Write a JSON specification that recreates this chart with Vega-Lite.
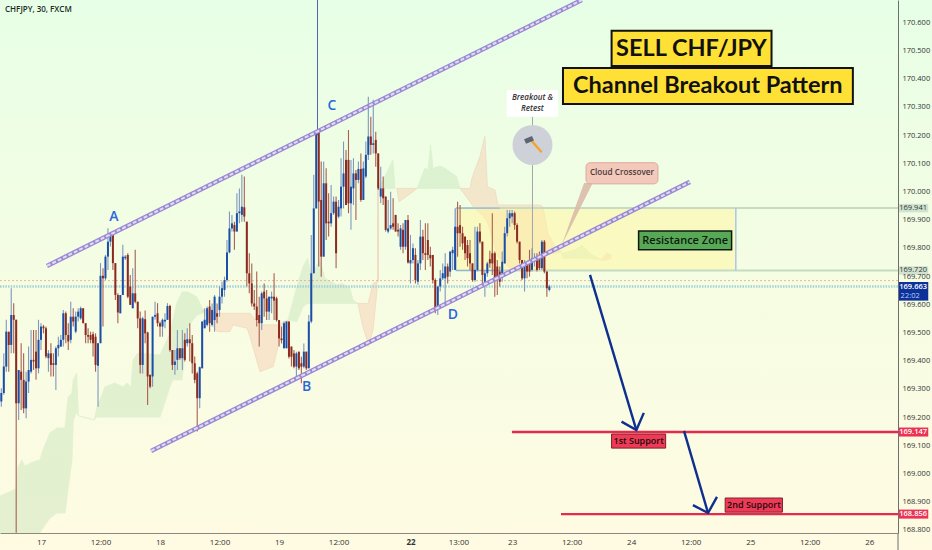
{
  "$schema": "https://vega.github.io/schema/vega-lite/v6.json",
  "width": 898,
  "height": 533,
  "autosize": "none",
  "padding": {"left": 0, "top": 0, "right": 34, "bottom": 17},
  "background": "#f5fde4",
  "view": {"stroke": null},
  "config": {"text": {"font": "Open Sans"}},
  "datasets": {
    "cand": [
      {"b":-17,"o":169.249,"c":169.273,"h":169.285,"l":169.220},
      {"b":-16,"o":169.255,"c":169.285,"h":169.302,"l":169.237},
      {"b":-15,"o":169.285,"c":169.379,"h":169.426,"l":169.279},
      {"b":-14,"o":169.379,"c":169.503,"h":169.545,"l":169.361},
      {"b":-13,"o":169.503,"c":169.456,"h":169.503,"l":169.361},
      {"b":-12,"o":169.456,"c":169.562,"h":169.657,"l":169.426},
      {"b":-11,"o":169.562,"c":169.545,"h":169.604,"l":169.426},
      {"b":-10,"o":169.545,"c":169.249,"h":169.545,"l":168.790},
      {"b":-9,"o":169.249,"c":169.367,"h":169.367,"l":169.190},
      {"b":-8,"o":169.361,"c":169.332,"h":169.462,"l":169.225},
      {"b":-7,"o":169.332,"c":169.231,"h":169.426,"l":169.214},
      {"b":-6,"o":169.231,"c":169.326,"h":169.361,"l":169.196},
      {"b":-5,"o":169.326,"c":169.367,"h":169.450,"l":169.285},
      {"b":-4,"o":169.361,"c":169.403,"h":169.509,"l":169.355},
      {"b":-3,"o":169.403,"c":169.397,"h":169.509,"l":169.367},
      {"b":-2,"o":169.432,"c":169.373,"h":169.509,"l":169.332},
      {"b":-1,"o":169.373,"c":169.474,"h":169.545,"l":169.355},
      {"b":0,"o":169.474,"c":169.521,"h":169.533,"l":169.438},
      {"b":1,"o":169.521,"c":169.515,"h":169.527,"l":169.497},
      {"b":2,"o":169.515,"c":169.415,"h":169.521,"l":169.409},
      {"b":3,"o":169.409,"c":169.426,"h":169.438,"l":169.361},
      {"b":4,"o":169.426,"c":169.385,"h":169.462,"l":169.344},
      {"b":5,"o":169.391,"c":169.385,"h":169.426,"l":169.344},
      {"b":6,"o":169.385,"c":169.444,"h":169.450,"l":169.296},
      {"b":7,"o":169.444,"c":169.456,"h":169.485,"l":169.415},
      {"b":8,"o":169.450,"c":169.474,"h":169.491,"l":169.450},
      {"b":9,"o":169.474,"c":169.568,"h":169.580,"l":169.450},
      {"b":10,"o":169.568,"c":169.491,"h":169.574,"l":169.462},
      {"b":11,"o":169.491,"c":169.468,"h":169.533,"l":169.438},
      {"b":12,"o":169.474,"c":169.556,"h":169.609,"l":169.462},
      {"b":13,"o":169.556,"c":169.539,"h":169.586,"l":169.521},
      {"b":14,"o":169.503,"c":169.556,"h":169.574,"l":169.497},
      {"b":15,"o":169.556,"c":169.574,"h":169.586,"l":169.539},
      {"b":16,"o":169.550,"c":169.586,"h":169.592,"l":169.545},
      {"b":17,"o":169.586,"c":169.533,"h":169.586,"l":169.533},
      {"b":18,"o":169.533,"c":169.491,"h":169.533,"l":169.462},
      {"b":19,"o":169.491,"c":169.485,"h":169.515,"l":169.462},
      {"b":20,"o":169.491,"c":169.474,"h":169.503,"l":169.462},
      {"b":21,"o":169.494,"c":169.462,"h":169.503,"l":169.415},
      {"b":22,"o":169.485,"c":169.385,"h":169.497,"l":169.361},
      {"b":23,"o":169.382,"c":169.462,"h":169.462,"l":169.237},
      {"b":24,"o":169.462,"c":169.701,"h":169.746,"l":169.462},
      {"b":25,"o":169.701,"c":169.692,"h":169.728,"l":169.521},
      {"b":26,"o":169.692,"c":169.769,"h":169.775,"l":169.686},
      {"b":27,"o":169.769,"c":169.822,"h":169.870,"l":169.722},
      {"b":28,"o":169.822,"c":169.852,"h":169.852,"l":169.805},
      {"b":29,"o":169.852,"c":169.746,"h":169.858,"l":169.722},
      {"b":30,"o":169.746,"c":169.633,"h":169.746,"l":169.615},
      {"b":31,"o":169.633,"c":169.571,"h":169.639,"l":169.533},
      {"b":32,"o":169.568,"c":169.633,"h":169.633,"l":169.568},
      {"b":33,"o":169.633,"c":169.769,"h":169.811,"l":169.633},
      {"b":34,"o":169.763,"c":169.769,"h":169.775,"l":169.757},
      {"b":35,"o":169.775,"c":169.627,"h":169.781,"l":169.621},
      {"b":36,"o":169.663,"c":169.598,"h":169.704,"l":169.598},
      {"b":37,"o":169.586,"c":169.639,"h":169.728,"l":169.586},
      {"b":38,"o":169.639,"c":169.609,"h":169.793,"l":169.604},
      {"b":39,"o":169.609,"c":169.550,"h":169.609,"l":169.515},
      {"b":40,"o":169.550,"c":169.385,"h":169.574,"l":169.355},
      {"b":41,"o":169.385,"c":169.550,"h":169.556,"l":169.355},
      {"b":42,"o":169.547,"c":169.497,"h":169.578,"l":169.462},
      {"b":43,"o":169.500,"c":169.344,"h":169.503,"l":169.243},
      {"b":44,"o":169.350,"c":169.308,"h":169.350,"l":169.302},
      {"b":45,"o":169.344,"c":169.556,"h":169.556,"l":169.308},
      {"b":46,"o":169.556,"c":169.562,"h":169.609,"l":169.545},
      {"b":47,"o":169.568,"c":169.533,"h":169.604,"l":169.521},
      {"b":48,"o":169.533,"c":169.521,"h":169.539,"l":169.485},
      {"b":49,"o":169.521,"c":169.545,"h":169.550,"l":169.485},
      {"b":50,"o":169.539,"c":169.545,"h":169.568,"l":169.515},
      {"b":51,"o":169.545,"c":169.594,"h":169.604,"l":169.545},
      {"b":52,"o":169.594,"c":169.438,"h":169.598,"l":169.432},
      {"b":53,"o":169.438,"c":169.385,"h":169.438,"l":169.367},
      {"b":54,"o":169.385,"c":169.397,"h":169.438,"l":169.350},
      {"b":55,"o":169.403,"c":169.444,"h":169.509,"l":169.367},
      {"b":56,"o":169.444,"c":169.409,"h":169.444,"l":169.403},
      {"b":57,"o":169.409,"c":169.444,"h":169.509,"l":169.367},
      {"b":58,"o":169.474,"c":169.403,"h":169.497,"l":169.397},
      {"b":59,"o":169.462,"c":169.476,"h":169.515,"l":169.450},
      {"b":60,"o":169.476,"c":169.462,"h":169.533,"l":169.397},
      {"b":61,"o":169.462,"c":169.391,"h":169.491,"l":169.355},
      {"b":62,"o":169.391,"c":169.332,"h":169.415,"l":169.320},
      {"b":63,"o":169.355,"c":169.267,"h":169.361,"l":169.149},
      {"b":64,"o":169.267,"c":169.377,"h":169.379,"l":169.231},
      {"b":65,"o":169.373,"c":169.539,"h":169.539,"l":169.373},
      {"b":66,"o":169.515,"c":169.545,"h":169.586,"l":169.515},
      {"b":67,"o":169.527,"c":169.586,"h":169.592,"l":169.521},
      {"b":68,"o":169.592,"c":169.533,"h":169.615,"l":169.503},
      {"b":69,"o":169.527,"c":169.580,"h":169.603,"l":169.521},
      {"b":70,"o":169.544,"c":169.627,"h":169.633,"l":169.503},
      {"b":71,"o":169.568,"c":169.556,"h":169.603,"l":169.533},
      {"b":72,"o":169.580,"c":169.627,"h":169.663,"l":169.556},
      {"b":73,"o":169.627,"c":169.657,"h":169.680,"l":169.603},
      {"b":74,"o":169.651,"c":169.686,"h":169.698,"l":169.627},
      {"b":75,"o":169.686,"c":169.784,"h":169.828,"l":169.680},
      {"b":76,"o":169.784,"c":169.869,"h":169.929,"l":169.781},
      {"b":77,"o":169.869,"c":169.887,"h":169.917,"l":169.858},
      {"b":78,"o":169.881,"c":169.858,"h":169.893,"l":169.793},
      {"b":79,"o":169.858,"c":169.923,"h":169.994,"l":169.858},
      {"b":80,"o":169.923,"c":169.929,"h":170.011,"l":169.887},
      {"b":81,"o":169.917,"c":169.946,"h":170.059,"l":169.893},
      {"b":82,"o":169.944,"c":169.911,"h":170.053,"l":169.893},
      {"b":83,"o":169.893,"c":169.710,"h":169.893,"l":169.663},
      {"b":84,"o":169.710,"c":169.674,"h":169.781,"l":169.639},
      {"b":85,"o":169.674,"c":169.603,"h":169.745,"l":169.592},
      {"b":86,"o":169.603,"c":169.592,"h":169.651,"l":169.580},
      {"b":87,"o":169.592,"c":169.544,"h":169.716,"l":169.521},
      {"b":88,"o":169.562,"c":169.533,"h":169.627,"l":169.450},
      {"b":89,"o":169.533,"c":169.639,"h":169.645,"l":169.509},
      {"b":90,"o":169.645,"c":169.621,"h":169.674,"l":169.556},
      {"b":91,"o":169.621,"c":169.574,"h":169.651,"l":169.544},
      {"b":92,"o":169.574,"c":169.627,"h":169.627,"l":169.544},
      {"b":93,"o":169.621,"c":169.627,"h":169.645,"l":169.568},
      {"b":94,"o":169.627,"c":169.613,"h":169.710,"l":169.544},
      {"b":95,"o":169.621,"c":169.544,"h":169.627,"l":169.539},
      {"b":96,"o":169.544,"c":169.479,"h":169.544,"l":169.450},
      {"b":97,"o":169.479,"c":169.473,"h":169.521,"l":169.461},
      {"b":98,"o":169.444,"c":169.533,"h":169.539,"l":169.444},
      {"b":99,"o":169.444,"c":169.539,"h":169.539,"l":169.444},
      {"b":100,"o":169.539,"c":169.414,"h":169.539,"l":169.408},
      {"b":101,"o":169.450,"c":169.414,"h":169.450,"l":169.379},
      {"b":102,"o":169.426,"c":169.379,"h":169.438,"l":169.373},
      {"b":103,"o":169.379,"c":169.426,"h":169.432,"l":169.343},
      {"b":104,"o":169.432,"c":169.373,"h":169.432,"l":169.367},
      {"b":105,"o":169.391,"c":169.379,"h":169.414,"l":169.320},
      {"b":106,"o":169.379,"c":169.432,"h":169.461,"l":169.373},
      {"b":107,"o":169.432,"c":169.373,"h":169.432,"l":169.367},
      {"b":108,"o":169.373,"c":169.539,"h":169.562,"l":169.373},
      {"b":109,"o":169.539,"c":169.710,"h":169.846,"l":169.533},
      {"b":110,"o":169.710,"c":169.940,"h":170.059,"l":169.710},
      {"b":111,"o":169.940,"c":170.218,"h":170.218,"l":169.940},
      {"b":112,"o":170.218,"c":169.964,"h":170.218,"l":169.734},
      {"b":113,"o":169.970,"c":169.769,"h":170.106,"l":169.698},
      {"b":114,"o":169.769,"c":170.029,"h":170.106,"l":169.769},
      {"b":115,"o":170.029,"c":169.887,"h":170.082,"l":169.828},
      {"b":116,"o":169.893,"c":169.887,"h":169.994,"l":169.840},
      {"b":117,"o":169.887,"c":169.923,"h":170.023,"l":169.875},
      {"b":118,"o":169.923,"c":169.964,"h":169.982,"l":169.917},
      {"b":119,"o":169.964,"c":169.781,"h":169.982,"l":169.728},
      {"b":120,"o":169.911,"c":169.946,"h":169.970,"l":169.905},
      {"b":121,"o":169.940,"c":170.017,"h":170.118,"l":169.911},
      {"b":122,"o":170.017,"c":170.064,"h":170.177,"l":169.940},
      {"b":123,"o":170.112,"c":169.952,"h":170.147,"l":169.952},
      {"b":124,"o":170.112,"c":169.958,"h":170.218,"l":169.923},
      {"b":125,"o":169.958,"c":170.017,"h":170.112,"l":169.864},
      {"b":126,"o":170.011,"c":170.064,"h":170.118,"l":169.952},
      {"b":127,"o":170.064,"c":170.041,"h":170.076,"l":169.899},
      {"b":128,"o":170.041,"c":170.080,"h":170.106,"l":170.029},
      {"b":129,"o":170.080,"c":169.970,"h":170.135,"l":169.964},
      {"b":130,"o":169.970,"c":170.082,"h":170.106,"l":169.970},
      {"b":131,"o":170.053,"c":170.130,"h":170.177,"l":170.047},
      {"b":132,"o":170.130,"c":170.195,"h":170.336,"l":170.112},
      {"b":133,"o":170.195,"c":170.165,"h":170.265,"l":170.130},
      {"b":134,"o":170.165,"c":170.171,"h":170.325,"l":170.135},
      {"b":135,"o":170.183,"c":170.135,"h":170.212,"l":170.088},
      {"b":136,"o":170.135,"c":170.011,"h":170.135,"l":170.005},
      {"b":137,"o":169.982,"c":170.011,"h":170.088,"l":169.958},
      {"b":138,"o":170.011,"c":169.976,"h":170.053,"l":169.952},
      {"b":139,"o":169.982,"c":169.864,"h":169.982,"l":169.858},
      {"b":140,"o":169.858,"c":169.869,"h":169.970,"l":169.852},
      {"b":141,"o":169.869,"c":169.881,"h":169.999,"l":169.864},
      {"b":142,"o":169.887,"c":169.875,"h":169.976,"l":169.864},
      {"b":143,"o":169.917,"c":169.858,"h":169.917,"l":169.858},
      {"b":144,"o":169.864,"c":169.858,"h":169.887,"l":169.840},
      {"b":145,"o":169.804,"c":169.869,"h":169.881,"l":169.793},
      {"b":146,"o":169.864,"c":169.804,"h":169.887,"l":169.781},
      {"b":147,"o":169.804,"c":169.899,"h":169.899,"l":169.793},
      {"b":148,"o":169.899,"c":169.748,"h":169.917,"l":169.745},
      {"b":149,"o":169.745,"c":169.757,"h":169.846,"l":169.674},
      {"b":150,"o":169.757,"c":169.799,"h":169.816,"l":169.745},
      {"b":151,"o":169.775,"c":169.686,"h":169.799,"l":169.674},
      {"b":152,"o":169.680,"c":169.745,"h":169.757,"l":169.669},
      {"b":153,"o":169.745,"c":169.840,"h":169.899,"l":169.722},
      {"b":154,"o":169.840,"c":169.781,"h":169.864,"l":169.757},
      {"b":155,"o":169.781,"c":169.775,"h":169.887,"l":169.722},
      {"b":156,"o":169.828,"c":169.775,"h":169.887,"l":169.757},
      {"b":157,"o":169.775,"c":169.763,"h":169.804,"l":169.734},
      {"b":158,"o":169.775,"c":169.686,"h":169.775,"l":169.674},
      {"b":159,"o":169.686,"c":169.586,"h":169.692,"l":169.568},
      {"b":160,"o":169.586,"c":169.663,"h":169.663,"l":169.562},
      {"b":161,"o":169.663,"c":169.692,"h":169.722,"l":169.645},
      {"b":162,"o":169.692,"c":169.710,"h":169.745,"l":169.686},
      {"b":163,"o":169.692,"c":169.734,"h":169.781,"l":169.603},
      {"b":164,"o":169.734,"c":169.698,"h":169.745,"l":169.674},
      {"b":165,"o":169.716,"c":169.787,"h":169.787,"l":169.698},
      {"b":166,"o":169.781,"c":169.793,"h":169.804,"l":169.722},
      {"b":167,"o":169.722,"c":169.875,"h":169.940,"l":169.722},
      {"b":168,"o":169.875,"c":169.852,"h":169.964,"l":169.769},
      {"b":169,"o":169.881,"c":169.852,"h":169.952,"l":169.804},
      {"b":170,"o":169.852,"c":169.816,"h":169.875,"l":169.793},
      {"b":171,"o":169.840,"c":169.781,"h":169.840,"l":169.757},
      {"b":172,"o":169.810,"c":169.763,"h":169.828,"l":169.734},
      {"b":173,"o":169.781,"c":169.745,"h":169.828,"l":169.722},
      {"b":174,"o":169.745,"c":169.686,"h":169.745,"l":169.680},
      {"b":175,"o":169.686,"c":169.722,"h":169.875,"l":169.680},
      {"b":176,"o":169.722,"c":169.858,"h":169.875,"l":169.716},
      {"b":177,"o":169.858,"c":169.822,"h":169.887,"l":169.816},
      {"b":178,"o":169.822,"c":169.704,"h":169.822,"l":169.674},
      {"b":179,"o":169.680,"c":169.710,"h":169.722,"l":169.627},
      {"b":180,"o":169.710,"c":169.745,"h":169.751,"l":169.698},
      {"b":181,"o":169.760,"c":169.745,"h":169.790,"l":169.730},
      {"b":182,"o":169.781,"c":169.745,"h":169.923,"l":169.704},
      {"b":183,"o":169.781,"c":169.686,"h":169.787,"l":169.627},
      {"b":184,"o":169.734,"c":169.698,"h":169.757,"l":169.633},
      {"b":185,"o":169.716,"c":169.680,"h":169.734,"l":169.663},
      {"b":186,"o":169.710,"c":169.751,"h":169.787,"l":169.680},
      {"b":187,"o":169.745,"c":169.852,"h":169.875,"l":169.745},
      {"b":188,"o":169.852,"c":169.905,"h":169.934,"l":169.840},
      {"b":189,"o":169.905,"c":169.923,"h":169.934,"l":169.875},
      {"b":190,"o":169.911,"c":169.923,"h":169.934,"l":169.887},
      {"b":191,"o":169.923,"c":169.881,"h":169.929,"l":169.864},
      {"b":192,"o":169.881,"c":169.822,"h":169.887,"l":169.816},
      {"b":193,"o":169.822,"c":169.757,"h":169.822,"l":169.745},
      {"b":194,"o":169.757,"c":169.692,"h":169.757,"l":169.686},
      {"b":195,"o":169.692,"c":169.745,"h":169.757,"l":169.645},
      {"b":196,"o":169.745,"c":169.716,"h":169.751,"l":169.692},
      {"b":197,"o":169.757,"c":169.716,"h":169.793,"l":169.698},
      {"b":198,"o":169.722,"c":169.763,"h":169.799,"l":169.716},
      {"b":199,"o":169.757,"c":169.763,"h":169.781,"l":169.734},
      {"b":200,"o":169.763,"c":169.722,"h":169.781,"l":169.716},
      {"b":201,"o":169.763,"c":169.728,"h":169.787,"l":169.722},
      {"b":202,"o":169.728,"c":169.822,"h":169.828,"l":169.722},
      {"b":203,"o":169.822,"c":169.716,"h":169.828,"l":169.710},
      {"b":204,"o":169.716,"c":169.657,"h":169.716,"l":169.627},
      {"b":205,"o":169.651,"c":169.663,"h":169.669,"l":169.645}
    ],
    "cloud": [
      {"s":1,"k":"g","b":-16.5,"t":168.920,"u":168.7},
      {"s":1,"k":"g","b":-10.1,"t":168.945,"u":168.7},
      {"s":1,"k":"g","b":-9.3,"t":169.023,"u":168.7},
      {"s":1,"k":"g","b":-7.7,"t":169.048,"u":168.7},
      {"s":1,"k":"g","b":-6.5,"t":169.027,"u":168.7},
      {"s":1,"k":"g","b":-3.2,"t":169.041,"u":168.78},
      {"s":1,"k":"g","b":-0.4,"t":169.048,"u":168.79},
      {"s":1,"k":"g","b":0.8,"t":169.084,"u":168.807},
      {"s":1,"k":"g","b":3.6,"t":169.144,"u":168.842},
      {"s":1,"k":"g","b":6.5,"t":169.161,"u":168.860},
      {"s":1,"k":"g","b":9.7,"t":169.161,"u":168.860},
      {"s":1,"k":"g","b":10.9,"t":169.271,"u":168.942},
      {"s":1,"k":"g","b":12.5,"t":169.285,"u":169.048},
      {"s":1,"k":"g","b":13.0,"t":169.332,"u":169.190},
      {"s":1,"k":"g","b":14.4,"t":169.356,"u":169.218},
      {"s":1,"k":"g","b":15.1,"t":169.204,"u":169.204},
      {"s":2,"k":"g","b":15.3,"t":169.204,"u":169.204},
      {"s":2,"k":"g","b":21.5,"t":169.190,"u":169.190},
      {"s":2,"k":"g","b":22.6,"t":169.236,"u":169.200},
      {"s":2,"k":"g","b":23.8,"t":169.261,"u":169.200},
      {"s":2,"k":"g","b":25.8,"t":169.307,"u":169.200},
      {"s":2,"k":"g","b":29.8,"t":169.321,"u":169.200},
      {"s":2,"k":"g","b":33.1,"t":169.307,"u":169.200},
      {"s":2,"k":"g","b":34.7,"t":169.321,"u":169.200},
      {"s":2,"k":"g","b":36.3,"t":169.307,"u":169.200},
      {"s":2,"k":"g","b":37.1,"t":169.402,"u":169.200},
      {"s":2,"k":"g","b":39.1,"t":169.427,"u":169.200},
      {"s":2,"k":"g","b":48.0,"t":169.420,"u":169.200},
      {"s":2,"k":"g","b":52.0,"t":169.498,"u":169.307},
      {"s":2,"k":"g","b":53.2,"t":169.544,"u":169.332},
      {"s":2,"k":"g","b":54.8,"t":169.605,"u":169.332},
      {"s":2,"k":"g","b":56.9,"t":169.644,"u":169.332},
      {"s":2,"k":"g","b":59.3,"t":169.644,"u":169.520},
      {"s":2,"k":"g","b":62.9,"t":169.626,"u":169.562},
      {"s":2,"k":"g","b":65.3,"t":169.580,"u":169.569},
      {"s":3,"k":"r","b":65.3,"t":169.580,"u":169.575},
      {"s":3,"k":"r","b":71.0,"t":169.568,"u":169.503},
      {"s":3,"k":"r","b":76.2,"t":169.568,"u":169.503},
      {"s":3,"k":"r","b":77.4,"t":169.568,"u":169.527},
      {"s":3,"k":"r","b":83.1,"t":169.568,"u":169.515},
      {"s":3,"k":"r","b":84.3,"t":169.568,"u":169.485},
      {"s":3,"k":"r","b":88.3,"t":169.527,"u":169.361},
      {"s":3,"k":"r","b":93.6,"t":169.527,"u":169.379},
      {"s":3,"k":"r","b":95.6,"t":169.527,"u":169.450},
      {"s":3,"k":"r","b":98.4,"t":169.539,"u":169.515},
      {"s":3,"k":"r","b":99.6,"t":169.544,"u":169.544},
      {"s":4,"k":"g","b":99.6,"t":169.544,"u":169.544},
      {"s":4,"k":"g","b":103.2,"t":169.663,"u":169.539},
      {"s":4,"k":"g","b":105.7,"t":169.734,"u":169.592},
      {"s":4,"k":"g","b":107.5,"t":169.763,"u":169.603},
      {"s":4,"k":"g","b":108.9,"t":169.698,"u":169.603},
      {"s":4,"k":"g","b":112.5,"t":169.757,"u":169.603},
      {"s":4,"k":"g","b":114.5,"t":169.692,"u":169.603},
      {"s":4,"k":"g","b":119.4,"t":169.669,"u":169.603},
      {"s":4,"k":"g","b":121.4,"t":169.674,"u":169.603},
      {"s":4,"k":"g","b":124.6,"t":169.657,"u":169.603},
      {"s":4,"k":"g","b":125.8,"t":169.615,"u":169.603},
      {"s":4,"k":"g","b":127.8,"t":169.603,"u":169.603},
      {"s":5,"k":"r","b":127.8,"t":169.603,"u":169.603},
      {"s":5,"k":"r","b":129.8,"t":169.603,"u":169.521},
      {"s":5,"k":"r","b":131.5,"t":169.603,"u":169.473},
      {"s":5,"k":"r","b":131.9,"t":169.603,"u":169.450},
      {"s":5,"k":"r","b":133.9,"t":169.674,"u":169.509},
      {"s":5,"k":"r","b":135.5,"t":169.680,"u":169.651},
      {"s":6,"k":"g","b":135.9,"t":170.011,"u":170.011},
      {"s":6,"k":"g","b":138.7,"t":170.053,"u":170.011},
      {"s":6,"k":"g","b":141.9,"t":170.112,"u":170.011},
      {"s":6,"k":"g","b":142.7,"t":170.017,"u":170.011},
      {"s":7,"k":"r","b":143.5,"t":170.011,"u":170.011},
      {"s":7,"k":"r","b":144.4,"t":170.011,"u":169.964},
      {"s":7,"k":"r","b":150.0,"t":170.011,"u":169.999},
      {"s":7,"k":"r","b":151.6,"t":170.011,"u":170.011},
      {"s":8,"k":"g","b":151.6,"t":170.011,"u":170.011},
      {"s":8,"k":"g","b":154.8,"t":170.082,"u":170.011},
      {"s":8,"k":"g","b":156.1,"t":170.076,"u":170.011},
      {"s":8,"k":"g","b":157.1,"t":170.165,"u":170.011},
      {"s":8,"k":"g","b":158.1,"t":170.082,"u":170.011},
      {"s":8,"k":"g","b":160.9,"t":170.090,"u":170.011},
      {"s":8,"k":"g","b":162.9,"t":170.082,"u":170.011},
      {"s":8,"k":"g","b":167.6,"t":170.053,"u":170.011},
      {"s":8,"k":"g","b":169.0,"t":170.011,"u":170.011},
      {"s":9,"k":"r","b":169.0,"t":170.011,"u":170.011},
      {"s":9,"k":"r","b":173.0,"t":170.011,"u":169.964},
      {"s":9,"k":"r","b":173.8,"t":170.047,"u":169.952},
      {"s":9,"k":"r","b":177.0,"t":170.124,"u":169.923},
      {"s":9,"k":"r","b":179.0,"t":170.195,"u":169.905},
      {"s":9,"k":"r","b":180.0,"t":170.017,"u":169.893},
      {"s":9,"k":"r","b":183.1,"t":170.005,"u":169.804},
      {"s":9,"k":"r","b":184.3,"t":169.952,"u":169.769},
      {"s":9,"k":"r","b":189.1,"t":169.952,"u":169.728},
      {"s":9,"k":"r","b":191.9,"t":169.952,"u":169.728},
      {"s":9,"k":"r","b":198.4,"t":169.952,"u":169.751},
      {"s":9,"k":"r","b":201.2,"t":169.952,"u":169.763},
      {"s":9,"k":"r","b":202.4,"t":169.946,"u":169.775},
      {"s":9,"k":"r","b":204.4,"t":169.852,"u":169.781},
      {"s":9,"k":"r","b":207.3,"t":169.804,"u":169.781},
      {"s":9,"k":"r","b":209.7,"t":169.787,"u":169.787},
      {"s":10,"k":"g","b":209.7,"t":169.787,"u":169.787},
      {"s":10,"k":"g","b":210.5,"t":169.781,"u":169.763},
      {"s":10,"k":"g","b":215.3,"t":169.793,"u":169.763},
      {"s":10,"k":"g","b":218.2,"t":169.810,"u":169.763},
      {"s":10,"k":"g","b":221.4,"t":169.781,"u":169.763},
      {"s":10,"k":"g","b":225.8,"t":169.757,"u":169.757},
      {"s":11,"k":"r","b":225.8,"t":169.757,"u":169.757},
      {"s":11,"k":"r","b":228.2,"t":169.781,"u":169.757},
      {"s":11,"k":"r","b":229.8,"t":169.775,"u":169.763}
    ],
    "channel": [
      {"id":"upper","b":2.4,"p":169.736},
      {"id":"upper","b":218.1,"p":170.679},
      {"id":"lower","b":44.4,"p":169.080},
      {"id":"lower","b":261.7,"p":170.034}
    ],
    "arrows": [
      {"id":"a1","n":1,"b":221.4,"p":169.704},
      {"id":"a1","n":2,"b":240.1,"p":169.154},
      {"id":"h1","n":1,"b":234.1,"p":169.184},
      {"id":"h1","n":2,"b":240.1,"p":169.154},
      {"id":"h1","n":3,"b":243.1,"p":169.215},
      {"id":"a2","n":1,"b":259.3,"p":169.151},
      {"id":"a2","n":2,"b":269.0,"p":168.860},
      {"id":"h2","n":1,"b":262.9,"p":168.888},
      {"id":"h2","n":2,"b":269.0,"p":168.860},
      {"id":"h2","n":3,"b":272.6,"p":168.917}
    ]
  },
  "encoding": {
    "x": {
      "field": "b",
      "type": "quantitative",
      "title": null,
      "scale": {"domain": [-16.53, 345.6], "nice": false, "zero": false, "padding": 0},
      "axis": {
        "title": null,
        "zindex": 1,
        "grid": false,
        "ticks": false,
        "domainColor": "#8a8a80",
        "domainWidth": 1.2,
        "labelColor": "#333333",
        "labelFont": "Open Sans",
        "labelFontSize": 8,
        "labelPadding": 5,
        "labelFlush": false,
        "labelOverlap": false,
        "values": [0, 24, 48, 72, 96, 120, 149, 168.3, 190, 214, 238, 262, 286, 310, 334],
        "labelExpr": "({'0':'17','24':'12:00','48':'18','72':'12:00','96':'19','120':'12:00','149':'22','168.3':'13:00','190':'23','214':'12:00','238':'24','262':'12:00','286':'25','310':'12:00','334':'26'})[datum.value]",
        "labelFontWeight": {"condition": {"test": "datum.value == 149", "value": "bold"}, "value": "normal"}
      }
    },
    "y": {
      "field": "p",
      "type": "quantitative",
      "title": null,
      "scale": {"domain": [168.789, 170.679], "nice": false, "zero": false},
      "axis": {
        "title": null,
        "orient": "right",
        "zindex": 1,
        "grid": false,
        "ticks": false,
        "domainColor": "#6e6e6e",
        "domainWidth": 1,
        "labelColor": "#333333",
        "labelFont": "Open Sans",
        "labelFontSize": 7.5,
        "labelPadding": 4,
        "labelOverlap": false,
        "format": ".3f",
        "values": [168.8, 168.9, 169.0, 169.1, 169.2, 169.3, 169.4, 169.5, 169.6, 169.7, 169.8, 169.9, 170.0, 170.1, 170.2, 170.3, 170.4, 170.5, 170.6]
      }
    }
  },
  "layer": [
    {
      "data": {"values": [{"b": -17, "b2": 362, "p": 170.7, "p2": 168.7}]},
      "mark": {
        "type": "rect",
        "color": {
          "gradient": "linear", "x1": 0, "y1": 0, "x2": 0, "y2": 1,
          "stops": [
            {"offset": 0, "color": "#e6ffe6"},
            {"offset": 0.5, "color": "#f5fde3"},
            {"offset": 1, "color": "#fffbe2"}
          ]
        }
      },
      "encoding": {"x2": {"field": "b2"}, "y2": {"field": "p2"}}
    },
    {
      "data": {"name": "cloud"},
      "mark": {"type": "area", "clip": true, "opacity": 0.42, "strokeWidth": 0.8},
      "encoding": {
        "y": {"field": "t", "type": "quantitative", "stack": null},
        "y2": {"field": "u"},
        "detail": {"field": "s", "type": "nominal"},
        "color": {"field": "k", "type": "nominal", "legend": null, "scale": {"domain": ["g", "r"], "range": ["#c2e2b6", "#f7c8ab"]}},
        "stroke": {"field": "k", "type": "nominal", "legend": null, "scale": {"domain": ["g", "r"], "range": ["#c2e2b6", "#eea98e"]}}
      }
    },
    {
      "data": {"values": [{"b": 135.9, "p": 169.68, "p2": 170.011}]},
      "mark": {"type": "rule", "color": "#eebba3", "strokeWidth": 1},
      "encoding": {"y2": {"field": "p2"}}
    },
    {
      "data": {"values": [{"b": 167.3, "b2": 280.2, "p": 169.941, "p2": 169.72}]},
      "mark": {"type": "rect", "color": "#fff59d", "opacity": 0.5},
      "encoding": {"x2": {"field": "b2"}, "y2": {"field": "p2"}}
    },
    {
      "data": {"values": [{"b": 167.3, "b2": 345.6, "p": 169.941}, {"b": 167.3, "b2": 345.6, "p": 169.72}]},
      "mark": {"type": "rule", "color": "#c6dcc2", "strokeWidth": 2},
      "encoding": {"x2": {"field": "b2"}}
    },
    {
      "data": {"values": [{"b": 167.3, "b2": 185, "p": 169.941}, {"b": 167.3, "b2": 185, "p": 169.72}]},
      "mark": {"type": "rule", "color": "#8db2e2", "strokeWidth": 1},
      "encoding": {"x2": {"field": "b2"}}
    },
    {
      "data": {"values": [{"b": 167.3, "p": 169.941, "p2": 169.72}]},
      "mark": {"type": "rule", "color": "#8db2e2", "strokeWidth": 1},
      "encoding": {"y2": {"field": "p2"}}
    },
    {
      "data": {"values": [{"b": 280.2, "p": 169.941, "p2": 169.72}]},
      "mark": {"type": "rule", "color": "#adc6e4", "strokeWidth": 1.5},
      "encoding": {"y2": {"field": "p2"}}
    },
    {
      "data": {"values": [{"b": -16.53, "b2": 345.6, "p": 169.684}]},
      "mark": {"type": "rule", "color": "#f0a08c", "strokeWidth": 0.8, "strokeDash": [2, 2]},
      "encoding": {"x2": {"field": "b2"}}
    },
    {
      "data": {"values": [{"b": -16.53, "b2": 345.6, "p": 169.663}]},
      "mark": {"type": "rule", "color": "#a3d2d8", "strokeWidth": 2.4, "strokeDash": [1.5, 1.2]},
      "encoding": {"x2": {"field": "b2"}}
    },
    {
      "data": {"values": [{"b": 198.2, "p": 170.265, "p2": 169.746}]},
      "mark": {"type": "rule", "color": "#a3a6a8", "strokeWidth": 1},
      "encoding": {"y2": {"field": "p2"}}
    },
    {
      "data": {"values": [{"b": 111.5, "p": 170.679, "p2": 170.2}]},
      "mark": {"type": "rule", "color": "#5663b0", "strokeWidth": 1},
      "encoding": {"y2": {"field": "p2"}}
    },
    {
      "data": {"name": "cand"},
      "mark": {"type": "rule", "strokeWidth": 1.1, "clip": true},
      "encoding": {
        "y": {"field": "l", "type": "quantitative"},
        "y2": {"field": "h"},
        "color": {"condition": {"test": "datum.c >= datum.o", "value": "#7f97bf"}, "value": "#a9604f"}
      }
    },
    {
      "data": {"name": "cand"},
      "mark": {"type": "bar", "size": 2, "clip": true},
      "encoding": {
        "y": {"field": "o", "type": "quantitative"},
        "y2": {"field": "c"},
        "color": {"condition": {"test": "datum.c >= datum.o", "value": "#1b4ea6"}, "value": "#8c2a22"}
      }
    },
    {
      "data": {"name": "channel"},
      "mark": {"type": "line", "color": "#9a8ad4", "strokeWidth": 4.6, "clip": true, "strokeCap": "butt"},
      "encoding": {"detail": {"field": "id", "type": "nominal"}}
    },
    {
      "data": {"name": "channel"},
      "mark": {"type": "line", "color": "#e4dcf4", "strokeWidth": 2, "strokeDash": [4, 2], "clip": true, "strokeCap": "butt"},
      "encoding": {"detail": {"field": "id", "type": "nominal"}}
    },
    {
      "data": {"values": [{"b": 219, "b2": 222.5, "p": 170.03}, {"b": 210, "b2": 210, "p": 169.81}]},
      "mark": {"type": "area", "orient": "horizontal", "color": "#d9bba8", "opacity": 0.9},
      "encoding": {"x": {"field": "b", "type": "quantitative"}, "x2": {"field": "b2"}, "y": {"field": "p", "type": "quantitative"}}
    },
    {
      "data": {"values": [{"b": 219.8, "b2": 248.8, "p": 170.102, "p2": 170.027}]},
      "mark": {"type": "rect", "color": "#f2c9bb", "stroke": "#dcaa9b", "strokeWidth": 1, "cornerRadius": 4},
      "encoding": {"x2": {"field": "b2"}, "y2": {"field": "p2"}}
    },
    {
      "data": {"values": [{"b": 234.3, "p": 170.064, "t": "Cloud Crossover"}]},
      "mark": {"type": "text", "fontSize": 8.2, "color": "#4a3a36", "font": "Open Sans", "fontWeight": 600},
      "encoding": {"text": {"field": "t"}}
    },
    {
      "data": {"values": [{"b": 198.2, "p": 170.165}]},
      "mark": {"type": "point", "shape": "circle", "filled": true, "size": 1600, "color": "#ced2d8", "opacity": 1}
    },
    {
      "data": {"values": [{"b": 197.5, "p": 170.183, "n": 1}, {"b": 201.9, "p": 170.139, "n": 2}]},
      "mark": {"type": "line", "color": "#f5a42c", "strokeWidth": 2.4},
      "encoding": {"order": {"field": "n"}}
    },
    {
      "data": {"values": [{"b": 195.2, "p": 170.177, "n": 1}, {"b": 198.4, "p": 170.189, "n": 2}]},
      "mark": {"type": "line", "color": "#5d6670", "strokeWidth": 5},
      "encoding": {"order": {"field": "n"}}
    },
    {
      "data": {"values": [{"b": 187.8, "b2": 208.5, "p": 170.36, "p2": 170.265}]},
      "mark": {"type": "rect", "color": "#ffffff"},
      "encoding": {"x2": {"field": "b2"}, "y2": {"field": "p2"}}
    },
    {
      "data": {"values": [{"b": 198.2, "p": 170.332, "t": "Breakout &"}, {"b": 198.2, "p": 170.293, "t": "Retest"}]},
      "mark": {"type": "text", "fontSize": 8, "fontStyle": "italic", "font": "Open Sans", "color": "#333333", "fontWeight": 600},
      "encoding": {"text": {"field": "t"}}
    },
    {
      "data": {"values": [{"b": 189.9, "b2": 345.6, "p": 169.147}]},
      "mark": {"type": "rule", "color": "#e62a4e", "strokeWidth": 2.4},
      "encoding": {"x2": {"field": "b2"}}
    },
    {
      "data": {"values": [{"b": 209.7, "b2": 345.6, "p": 168.856}]},
      "mark": {"type": "rule", "color": "#e62a4e", "strokeWidth": 2.4},
      "encoding": {"x2": {"field": "b2"}}
    },
    {
      "data": {"name": "arrows"},
      "mark": {"type": "line", "color": "#0f2f8f", "strokeWidth": 2.4},
      "encoding": {"detail": {"field": "id", "type": "nominal"}, "order": {"field": "n"}}
    },
    {
      "data": {"values": [{"b": 230.1, "b2": 251.9, "p": 169.14, "p2": 169.09}, {"b": 275.9, "b2": 299, "p": 168.913, "p2": 168.863}]},
      "mark": {"type": "rect", "color": "#ee3a57", "stroke": "#7c1f2a", "strokeWidth": 1},
      "encoding": {"x2": {"field": "b2"}, "y2": {"field": "p2"}}
    },
    {
      "data": {"values": [{"b": 241, "p": 169.115, "t": "1st Support"}, {"b": 287.5, "p": 168.888, "t": "2nd Support"}]},
      "mark": {"type": "text", "fontSize": 9, "font": "Open Sans", "fontWeight": 600, "color": "#1b0b0b"},
      "encoding": {"text": {"field": "t"}}
    },
    {
      "data": {"values": [{"b": 241, "b2": 278.5, "p": 169.86, "p2": 169.793}]},
      "mark": {"type": "rect", "color": "#58a957", "stroke": "#0c1a0c", "strokeWidth": 1.5},
      "encoding": {"x2": {"field": "b2"}, "y2": {"field": "p2"}}
    },
    {
      "data": {"values": [{"b": 259.8, "p": 169.826, "t": "Resistance Zone"}]},
      "mark": {"type": "text", "fontSize": 11, "font": "Open Sans", "fontWeight": 600, "color": "#0c1a0c"},
      "encoding": {"text": {"field": "t"}}
    },
    {
      "data": {"values": [{"b": 230.1, "b2": 294.6, "p": 170.57, "p2": 170.445}, {"b": 210.5, "b2": 327.4, "p": 170.438, "p2": 170.31}]},
      "mark": {"type": "rect", "color": "#ffe135", "stroke": "#111111", "strokeWidth": 2},
      "encoding": {"x2": {"field": "b2"}, "y2": {"field": "p2"}}
    },
    {
      "data": {"values": [{"b": 262.3, "p": 170.507, "t": "SELL CHF/JPY"}, {"b": 268.9, "p": 170.374, "t": "Channel Breakout Pattern"}]},
      "mark": {"type": "text", "fontSize": 23.5, "font": "Lato", "fontWeight": "bold", "color": "#111111"},
      "encoding": {"text": {"field": "t"}}
    },
    {
      "data": {"values": [
        {"b": 29.4, "p": 169.911, "t": "A"},
        {"b": 107.1, "p": 169.308, "t": "B"},
        {"b": 117.3, "p": 170.304, "t": "C"},
        {"b": 166.1, "p": 169.562, "t": "D"}
      ]},
      "mark": {"type": "text", "fontSize": 14, "font": "Open Sans", "fontWeight": 600, "color": "#2a68dc"},
      "encoding": {"text": {"field": "t"}}
    },
    {
      "data": {"values": [{"b": -14.5, "p": 170.644, "t": "CHFJPY, 30, FXCM"}]},
      "mark": {"type": "text", "align": "left", "fontSize": 8, "font": "Open Sans", "fontWeight": 600, "color": "#1d2a22"},
      "encoding": {"text": {"field": "t"}}
    },
    {
      "data": {"values": [{"b": 345.6, "p": 168.789, "p2": 168.7}]},
      "mark": {"type": "rule", "color": "#6e6e6e", "strokeWidth": 1},
      "encoding": {"y2": {"field": "p2"}}
    },
    {
      "data": {"values": [{"b": 345.6, "b2": 357.8, "p": 169.956, "p2": 169.926}, {"b": 345.6, "b2": 357.8, "p": 169.735, "p2": 169.705}]},
      "mark": {"type": "rect", "color": "#cfe3cf"},
      "encoding": {"x2": {"field": "b2"}, "y2": {"field": "p2"}}
    },
    {
      "data": {"values": [{"b": 345.6, "b2": 357.8, "p": 169.679, "p2": 169.613}]},
      "mark": {"type": "rect", "color": "#0c3299"},
      "encoding": {"x2": {"field": "b2"}, "y2": {"field": "p2"}}
    },
    {
      "data": {"values": [{"b": 345.6, "b2": 357.8, "p": 169.163, "p2": 169.131}, {"b": 345.6, "b2": 357.8, "p": 168.872, "p2": 168.84}]},
      "mark": {"type": "rect", "color": "#ec3355"},
      "encoding": {"x2": {"field": "b2"}, "y2": {"field": "p2"}}
    },
    {
      "data": {"values": [{"b": 351.7, "p": 169.941, "t": "169.941"}, {"b": 351.7, "p": 169.72, "t": "169.720"}]},
      "mark": {"type": "text", "fontSize": 7.5, "font": "Open Sans", "color": "#333333"},
      "encoding": {"text": {"field": "t"}}
    },
    {
      "data": {"values": [{"b": 351.7, "p": 169.661, "t": "169.663"}, {"b": 351.7, "p": 169.147, "t": "169.147"}, {"b": 351.7, "p": 168.856, "t": "168.856"}]},
      "mark": {"type": "text", "fontSize": 7.5, "font": "Open Sans", "fontWeight": 600, "color": "#ffffff"},
      "encoding": {"text": {"field": "t"}}
    },
    {
      "data": {"values": [{"b": 350.5, "p": 169.629, "t": "22:02"}]},
      "mark": {"type": "text", "fontSize": 7.5, "font": "Open Sans", "color": "#bcd0ff"},
      "encoding": {"text": {"field": "t"}}
    }
  ]
}
